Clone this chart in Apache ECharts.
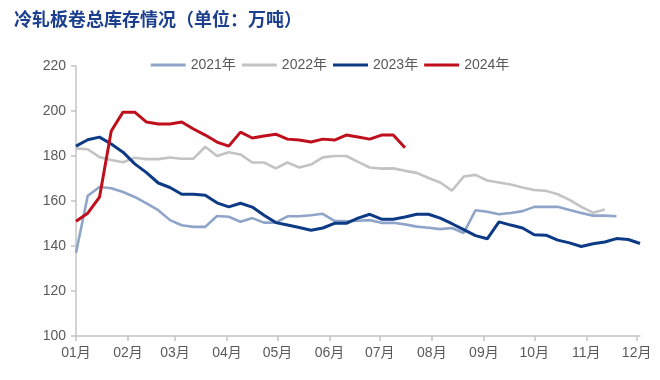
<!DOCTYPE html>
<html>
<head>
<meta charset="utf-8">
<script src="https://cdn.jsdelivr.net/npm/echarts@6/dist/echarts.min.js"></script>
<style>
html,body{margin:0;padding:0;background:#fff;}
#chart{width:660px;height:380px;}
</style>
</head>
<body>
<div id="chart"></div>
<script>
// Weekly inventory values (万吨), first week placed at 01-01
var seriesNames = ['2021年', '2022年', '2023年', '2024年'];
var v2021 = [137, 162.3, 166.2, 165.7, 164, 161.8, 158.9, 155.9, 151.5, 149.2, 148.5, 148.5, 153.3, 153, 150.8, 152.4, 150.4, 150.4, 153.2, 153.2, 153.7, 154.3, 151.2, 151, 151.2, 151.5, 150.3, 150.3, 149.6, 148.6, 148.1, 147.5, 148, 145.8, 155.9, 155.2, 154.1, 154.7, 155.5, 157.4, 157.4, 157.4, 156, 154.7, 153.5, 153.5, 153.2];
var v2022 = [183.4, 183, 179.5, 178.2, 177.2, 179.2, 178.6, 178.6, 179.3, 178.8, 178.8, 184.1, 180, 181.7, 180.7, 177.1, 177.1, 174.5, 177.1, 174.9, 176.2, 179.4, 180, 180, 177.4, 174.9, 174.4, 174.5, 173.4, 172.5, 170.2, 168.2, 164.6, 170.9, 171.6, 169.1, 168.2, 167.3, 166, 164.9, 164.5, 163, 160.5, 157.4, 154.8, 156.2];
var v2023 = [184.4, 187.2, 188.4, 185.3, 181.7, 176.5, 172.6, 168, 166, 163, 163, 162.6, 159.2, 157.4, 159, 157.3, 153.7, 150.4, 149.3, 148.2, 147, 148, 150.1, 150.1, 152.4, 154.1, 151.9, 151.9, 152.9, 154.1, 154.1, 152.4, 149.9, 147.3, 144.6, 143.2, 150.7, 149.3, 148, 145, 144.8, 142.6, 141.4, 139.8, 141, 141.8, 143.3, 142.9, 141.1];
var v2024 = [151, 154.6, 161.7, 191.1, 199.5, 199.5, 195.1, 194.2, 194.2, 195.1, 192, 189.3, 186.2, 184.4, 190.6, 188, 188.9, 189.7, 187.5, 187.1, 186.2, 187.5, 187.1, 189.3, 188.4, 187.5, 189.3, 189.3, 183.7];
var monthLabels = ['01月','02月','03月','04月','05月','06月','07月','08月','09月','10月','11月','12月'];
var yTicks = [100, 120, 140, 160, 180, 200, 220];

// x position = day of year (0 = 01-01) in a non-leap year
var BASE_YEAR = 2023;
var DAY = 86400000;
var jan1 = Date.UTC(BASE_YEAR, 0, 1);
function toPairs(arr) { return arr.map(function (v, i) { return [7 * i, v]; }); }
var monthStarts = monthLabels.map(function (_, m) { return Math.round((Date.UTC(BASE_YEAR, m, 1) - jan1) / DAY); });

var colors = ['#8fa4c9', '#c3c3c3', '#0d3a84', '#c00f1c'];
var widths = [2.6, 2.6, 3, 3];
var allData = [v2021, v2022, v2023, v2024];

var chart = echarts.init(document.getElementById('chart'), null, {renderer: 'canvas'});
var labelFont = '"Liberation Sans", "Noto Sans CJK SC", sans-serif';
chart.setOption({
  animation: false,
  backgroundColor: '#ffffff',
  title: {
    text: '冷轧板卷总库存情况（单位：万吨）',
    left: 9, top: 5,
    textStyle: {color: '#1d3f8f', fontSize: 18, fontWeight: 'bold', fontFamily: '"Noto Sans CJK SC", sans-serif'}
  },
  legend: {
    top: 53, left: 'center',
    icon: 'rect', itemWidth: 35, itemHeight: 3, itemGap: 6,
    textStyle: {color: '#595959', fontSize: 14, fontFamily: labelFont},
    data: seriesNames
  },
  grid: {left: 76, right: 20, top: 66, bottom: 44, containLabel: false},
  xAxis: {
    type: 'value',
    min: 0,
    max: 336,
    axisLine: {lineStyle: {color: '#c4c4c4', width: 1.5}},
    axisTick: {show: true, customValues: monthStarts, length: 5, lineStyle: {color: '#c4c4c4', width: 1.5}},
    splitLine: {show: false},
    axisLabel: {
      customValues: monthStarts,
      color: '#595959', fontSize: 14, fontFamily: labelFont, margin: 10,
      formatter: function (val) { return monthLabels[monthStarts.indexOf(Math.round(val))]; }
    }
  },
  yAxis: {
    type: 'value',
    min: yTicks[0], max: yTicks[yTicks.length - 1], interval: 20,
    axisLine: {show: true, lineStyle: {color: '#c4c4c4', width: 1.5}},
    axisTick: {show: true, length: 5, lineStyle: {color: '#c4c4c4', width: 1.5}},
    splitLine: {show: false},
    axisLabel: {color: '#595959', fontSize: 14, fontFamily: labelFont, margin: 10}
  },
  series: seriesNames.map(function (name, k) {
    return {
      name: name, type: 'line', data: toPairs(allData[k]),
      symbol: 'none', smooth: false,
      lineStyle: {color: colors[k], width: widths[k]},
      itemStyle: {color: colors[k]}
    };
  })
});
</script>
</body>
</html>
